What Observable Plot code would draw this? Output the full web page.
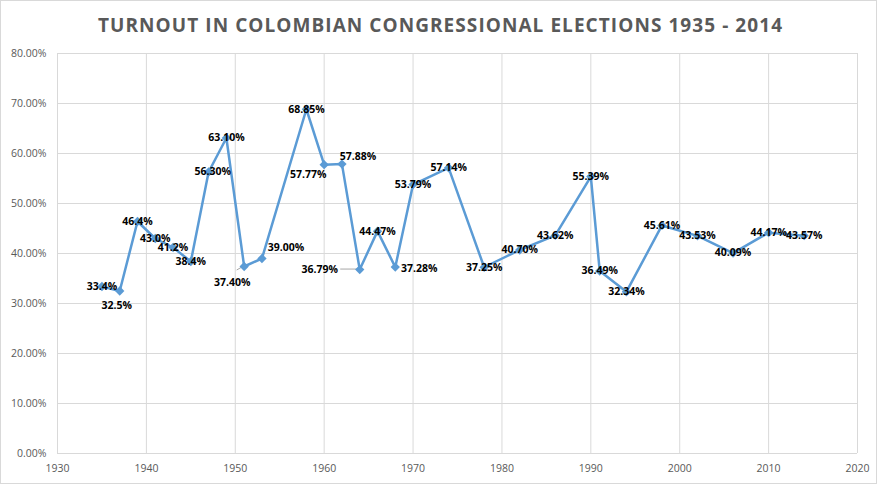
<!DOCTYPE html>
<html>
<head>
<meta charset="utf-8">
<script src="https://cdn.jsdelivr.net/npm/d3@7"></script>
<script src="https://cdn.jsdelivr.net/npm/@observablehq/plot@0.6"></script>
<style>
  html, body { margin: 0; padding: 0; background: #fff; }
  #wrap { position: relative; width: 883px; height: 484px; overflow: hidden; background: #fff; }
  #border { position: absolute; left: 0; top: 0; width: 875px; height: 482px; border: 1px solid #d9d9d9; }
  #title { position: absolute; left: 0; top: 0; }
  #chart { position: absolute; left: 0; top: 40px; }
</style>
</head>
<body>
<div id="wrap">
  <div id="border"></div>
  <svg id="title" width="883" height="40">
    <text x="440" y="31.5" text-anchor="middle" textLength="684" lengthAdjust="spacing"
      font-family="Open Sans" font-weight="bold" font-size="19" fill="#595959">TURNOUT IN COLOMBIAN CONGRESSIONAL ELECTIONS 1935 - 2014</text>
  </svg>
  <div id="chart"></div>
</div>
<script>
const years = [1935, 1937, 1939, 1941, 1943, 1945, 1947, 1949, 1951, 1953, 1958, 1960, 1962, 1964, 1966, 1968, 1970, 1974, 1978, 1982, 1986, 1990, 1991, 1994, 1998, 2002, 2006, 2010, 2014];
const turnout = [33.4, 32.5, 46.4, 43.0, 41.2, 38.4, 56.30, 63.10, 37.40, 39.00, 68.85, 57.77, 57.88, 36.79, 44.47, 37.28, 53.79, 57.14, 37.25, 40.70, 43.62, 55.39, 36.49, 32.34, 45.61, 43.53, 40.09, 44.17, 43.57];
const pointLabels = ["33.4%", "32.5%", "46.4%", "43.0%", "41.2%", "38.4%", "56.30%", "63.10%", "37.40%", "39.00%", "68.85%", "57.77%", "57.88%", "36.79%", "44.47%", "37.28%", "53.79%", "57.14%", "37.25%", "40.70%", "43.62%", "55.39%", "36.49%", "32.34%", "45.61%", "43.53%", "40.09%", "44.17%", "43.57%"];
const xTicks = [1930, 1940, 1950, 1960, 1970, 1980, 1990, 2000, 2010, 2020];
const yTicks = [0, 10, 20, 30, 40, 50, 60, 70, 80];

const data = years.map((year, i) => ({year, value: turnout[i], label: pointLabels[i]}));

// label nudges in pixels (layout only)
const nudge = {1937: [-3, 15], 1947: [4, 0], 1951: [-12, 16], 1953: [24, -11], 1960: [-16, 10], 1962: [16, -7], 1964: [-40, 0], 1968: [24, 2]};
// leader lines in pixels from the point
const leaders = {1951: [-7, 4], 1964: [-19, 0]};

const blue = "#5B9BD5";
const grid = "#d9d9d9";

const textMarks = data.map(d => {
  const [dx, dy] = nudge[d.year] || [0, 0];
  return Plot.text([d], {x: "year", y: "value", text: "label", dx, dy,
    fill: "#000", fontWeight: "bold", fontSize: 10.5, fontFamily: "Open Sans"});
});

function leaderMark(index, scales) {
  const g = d3.create("svg:g");
  for (const d of data) {
    const l = leaders[d.year];
    if (!l) continue;
    const px = scales.x(d.year), py = scales.y(d.value);
    g.append("line").attr("x1", px + l[0]).attr("y1", py + l[1]).attr("x2", px).attr("y2", py)
      .attr("stroke", "#a6a6a6").attr("stroke-width", 1);
  }
  return g.node();
}

const chart = Plot.plot({
  width: 883,
  height: 444,
  marginLeft: 57,
  marginRight: 26,
  marginTop: 13,
  marginBottom: 31,
  style: {fontFamily: "Open Sans", fontSize: "10.5px", background: "transparent"},
  x: {domain: [1930, 2020], label: null},
  y: {domain: [0, 80], label: null},
  marks: [
    Plot.gridX(xTicks, {stroke: grid, strokeOpacity: 1}),
    Plot.gridY(yTicks, {stroke: grid, strokeOpacity: 1}),
    Plot.axisX(xTicks, {label: null, tickSize: 0, tickPadding: 11, tickFormat: d => String(d), fill: "#595959", fontSize: 10.5}),
    Plot.axisY(yTicks, {label: null, tickSize: 0, tickPadding: 11, tickFormat: d => d.toFixed(2) + "%", fill: "#595959", fontSize: 10.5}),
    leaderMark,
    Plot.line(data, {x: "year", y: "value", stroke: blue, strokeWidth: 2.5}),
    Plot.dot(data, {x: "year", y: "value", symbol: "diamond2", r: 4.2, fill: blue, stroke: "none"}),
    ...textMarks
  ]
});
document.getElementById("chart").appendChild(chart);
</script>
</body>
</html>
